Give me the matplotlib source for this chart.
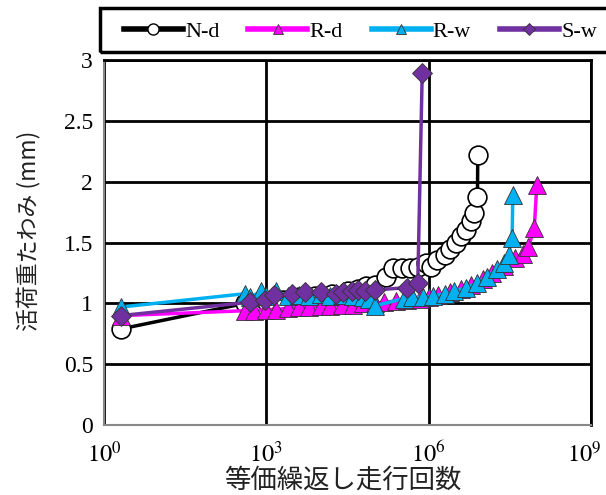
import matplotlib
matplotlib.use("Agg")
import matplotlib.pyplot as plt
from matplotlib.lines import Line2D
from matplotlib.patches import Rectangle
from matplotlib.transforms import ScaledTranslation

plt.rcParams['mathtext.fontset'] = 'stix'

# N-d
nd_n = [2, 400, 1000, 2000, 4000, 8000, 16000, 32000, 50000, 70000, 1e5, 1.6e5,
        2.2e5, 3.2e5, 4.5e5, 6.3e5, 9e5, 1.1e6, 1.4e6, 2e6, 2.5e6, 3.2e6, 4e6,
        5e6, 6e6, 7e6, 8e6, 8.1e6]
nd_y = [0.79, 1.00, 1.02, 1.03, 1.05, 1.06, 1.08, 1.10, 1.12, 1.14, 1.15, 1.22,
        1.29, 1.29, 1.29, 1.30, 1.33, 1.30, 1.36, 1.40, 1.45, 1.50, 1.55,
        1.60, 1.68, 1.74, 1.87, 2.22]

# R-d
rd_n = [2, 400, 600, 1000, 1500, 2500, 4000, 6000, 1e4, 1.5e4, 2.5e4, 4e4, 6e4,
        1e5, 1.5e5, 2.5e5, 4e5, 7e5, 1e6, 1.5e6, 2.5e6, 4e6, 6e6, 1e7, 1.5e7,
        2.5e7, 4e7, 5.5e7, 7e7, 9e7, 1e8]
rd_y = [0.90, 0.94, 0.94, 0.95, 0.95, 0.96, 0.97, 0.97, 0.98, 0.98, 0.99, 0.99, 1.00,
        1.00, 1.01, 1.02, 1.03, 1.04, 1.05, 1.07, 1.09, 1.12, 1.15, 1.20, 1.25,
        1.31, 1.37, 1.41, 1.46, 1.62, 1.97]

# R-w
rw_n = [2, 400, 500, 800, 1000, 1500, 2500, 4000, 6000, 1e4, 1.5e4, 2.5e4, 4e4,
        6e4, 8e4, 1e5, 3.5e5, 5e5, 8e5, 1.2e6, 2e6, 3e6, 5e6, 8e6, 1.2e7, 1.8e7,
        2.5e7, 3e7, 3.5e7, 3.6e7]
rw_y = [0.97, 1.08, 1.05, 1.10, 1.06, 1.10, 1.06, 1.07, 1.06, 1.08, 1.06, 1.07, 1.06,
        1.05, 1.04, 0.98, 1.04, 1.05, 1.05, 1.06, 1.08, 1.10, 1.13, 1.17, 1.22, 1.28,
        1.33, 1.40, 1.54, 1.89]

# S-w
sw_n = [2, 500, 950, 1400, 3000, 5200, 1e4, 1.9e4, 2.6e4, 3.8e4, 5e4, 6.6e4, 1e5,
        4e5, 6.3e5, 7.6e5]
sw_y = [0.90, 1.01, 1.03, 1.07, 1.08, 1.09, 1.09, 1.08, 1.09, 1.10, 1.11, 1.10, 1.11,
        1.13, 1.17, 2.89]

x_ticks = [1, 1e3, 1e6, 1e9]
x_labels = ['$10^{0}$', '$10^{3}$', '$10^{6}$', '$10^{9}$']
y_ticks = [0, 0.5, 1, 1.5, 2, 2.5, 3]
y_labels = ['0', '0.5', '1', '1.5', '2', '2.5', '3']

c_nd, c_rd, c_rw, c_sw = 'black', '#ff00ff', '#00b0f0', '#7030a0'

fig = plt.figure(figsize=(6.06, 4.95), dpi=100)
ax = fig.add_axes([0.172, 0.141, 0.803, 0.738])

ax.plot(nd_n, nd_y, '-o', color=c_nd, lw=2.5, ms=13.5, mfc='white', mec='black', mew=1.2, zorder=3)
ax.plot(rd_n, rd_y, '-^', color=c_rd, lw=2.5, ms=13, mfc=c_rd, mec='#333333', mew=0.6, zorder=4)
ax.plot(rw_n, rw_y, '-^', color=c_rw, lw=2.5, ms=13, mfc=c_rw, mec='#333333', mew=0.6, zorder=5)
ax.plot(sw_n, sw_y, '-D', color=c_sw, lw=2.5, ms=10, mfc=c_sw, mec='#333333', mew=0.6, zorder=6)

ax.set_xscale('log')
ax.set_xlim(1, 1e9)
ax.set_ylim(0, 3)
ax.set_xticks(x_ticks)
ax.set_xticklabels(x_labels)
ax.minorticks_off()
ax.set_yticks(y_ticks)
ax.set_yticklabels(y_labels)
ax.tick_params(length=0, labelsize=17, pad=8)
ax.tick_params(axis='x', labelsize=17.5, pad=12)
for lab in ax.get_xticklabels() + ax.get_yticklabels():
    lab.set_fontfamily('Liberation Serif')
# keep the last x label inside the figure, as in the original
last = ax.get_xticklabels()[-1]
last.set_transform(last.get_transform() + ScaledTranslation(-5 / 72, 0, fig.dpi_scale_trans))

ax.grid(True, color='black', lw=2)
ax.set_axisbelow(True)
for s in ['left', 'bottom']:
    ax.spines[s].set_color('#888888')
    ax.spines[s].set_linewidth(1.5)
for s in ['right', 'top']:
    ax.spines[s].set_color('black')
    ax.spines[s].set_linewidth(2)

fig.text(343 / 606, 1 - 480 / 495, '等価繰返し走行回数', fontsize=19,
         family=['Noto Sans CJK JP'], color='#222222', ha='center', va='center')
fig.text(28 / 606, 1 - 231 / 495, '活荷重たわみ (mm)', fontsize=16.5, rotation=90,
         family=['Noto Sans CJK JP'], color='#222222', ha='center', va='center')

# legend box
fig.add_artist(Rectangle((100 / 606, 1 - 52 / 495), 0.9, 44 / 495, transform=fig.transFigure,
                         fill=False, edgecolor='black', lw=2.5))
handles = [
    Line2D([], [], color=c_nd, lw=4, marker='o', ms=8, mfc='white', mec='black'),
    Line2D([], [], color=c_rd, lw=4, marker='^', ms=7, mfc=c_rd, mec='#333333', mew=0.6),
    Line2D([], [], color=c_rw, lw=4, marker='^', ms=7, mfc=c_rw, mec='#333333', mew=0.6),
    Line2D([], [], color=c_sw, lw=4, marker='D', ms=6, mfc=c_sw, mec='#333333', mew=0.6),
]
fig.legend(handles, ['N-d', 'R-d', 'R-w', 'S-w'], loc='center left',
           bbox_to_anchor=(124 / 606, 1 - 32 / 495), ncol=4, frameon=False,
           handlelength=2.65, handletextpad=0.1, columnspacing=1.3,
           borderpad=0, borderaxespad=0,
           prop={'family': 'Liberation Serif', 'size': 16})

fig.savefig('out.png', dpi=100)
